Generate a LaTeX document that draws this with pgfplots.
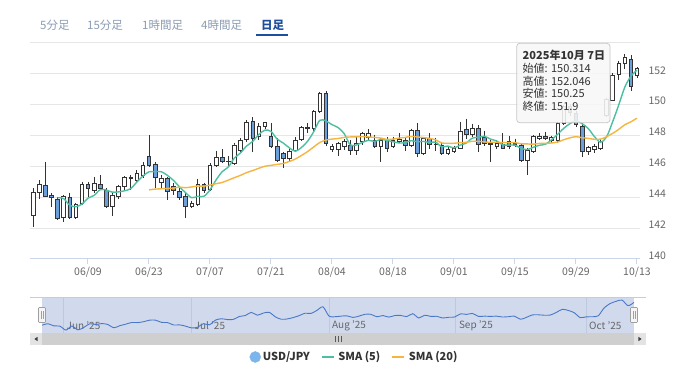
\documentclass[border=0pt]{standalone}
\usepackage{fontspec}
\setmainfont{Noto Sans CJK JP}
\usepackage{pgfplots}
\usepackage{pgfplotstable}
\pgfplotsset{compat=1.18}
\definecolor{gridc}{HTML}{E6E6E6}
\definecolor{axisc}{HTML}{CCD6EB}
\definecolor{txtc}{HTML}{666666}
\definecolor{candleblue}{HTML}{6A9FDC}
\definecolor{candleline}{HTML}{333333}
\definecolor{smafive}{HTML}{4DBFA0}
\definecolor{smatwenty}{HTML}{F5B53F}
\definecolor{tabc}{HTML}{8A9BB2}
\definecolor{tabactive}{HTML}{1D4F9E}
\definecolor{navmask}{HTML}{D1DAED}
\definecolor{navline}{HTML}{4A78C8}
\definecolor{navgrid}{HTML}{BFC9DD}
\definecolor{legblue}{HTML}{7CB5EC}

\pgfplotstableread{
i O H L C
0 142.85 144.60 142.10 144.30
1 144.30 145.10 143.90 144.84
2 144.79 146.30 144.00 144.08
3 144.10 144.25 143.40 144.00
4 143.87 144.04 142.53 142.63
5 142.68 144.15 142.42 144.04
6 144.00 144.30 142.57 142.70
7 142.68 143.65 142.57 143.56
8 143.60 145.00 143.50 144.84
9 144.86 145.00 144.04 144.58
10 144.47 145.30 144.25 144.90
11 144.84 145.44 144.47 144.58
12 144.47 144.58 143.28 143.43
13 143.39 144.25 142.79 144.15
14 144.04 144.80 143.87 144.69
15 144.69 145.38 144.47 145.27
16 145.30 145.44 144.47 145.25
17 145.12 145.77 144.90 145.55
18 145.44 146.30 145.23 146.09
19 146.67 148.03 145.94 146.09
20 146.16 146.30 144.58 145.30
21 144.95 145.45 144.60 145.25
22 145.20 145.33 143.80 144.40
23 144.70 144.90 144.15 144.45
24 144.40 144.58 143.82 144.00
25 144.04 144.25 142.66 143.39
26 143.39 143.78 143.28 143.60
27 143.56 145.16 143.43 144.86
28 144.86 144.95 144.25 144.47
29 144.50 146.20 144.40 146.09
30 146.09 147.00 145.94 146.59
31 146.59 147.10 146.20 146.30
32 146.30 146.67 145.94 146.35
33 146.20 147.54 146.09 147.39
34 147.06 147.82 146.89 147.71
35 147.75 149.00 147.60 148.83
36 148.90 149.18 146.95 147.82
37 147.93 148.83 147.71 148.57
38 148.57 148.90 148.45 148.83
39 147.97 148.80 147.17 147.28
40 147.32 147.82 146.30 146.41
41 146.85 146.95 145.87 146.52
42 146.50 147.10 146.30 147.00
43 147.06 147.88 146.95 147.67
44 147.75 148.62 147.65 148.53
45 148.55 148.79 148.14 148.45
46 148.47 149.65 148.14 149.55
47 149.55 150.84 149.44 150.73
48 150.73 150.90 147.35 147.50
49 147.10 147.45 146.95 147.30
50 147.10 147.60 146.65 147.50
51 147.28 147.75 147.06 147.60
52 147.39 147.71 146.74 147.06
53 147.06 147.93 146.74 147.50
54 147.60 148.25 147.40 148.14
55 147.88 148.40 147.71 148.14
56 147.71 148.03 147.17 147.28
57 147.28 147.82 146.30 147.71
58 147.71 147.88 146.95 147.17
59 147.28 147.93 147.17 147.71
60 147.60 148.14 147.50 147.75
61 147.70 147.90 147.00 147.35
62 147.35 148.45 147.25 148.35
63 148.36 148.80 146.63 146.85
64 146.85 147.93 146.74 147.82
65 147.82 148.15 147.10 147.40
66 147.40 147.85 147.00 147.45
67 147.39 147.60 146.75 146.85
68 146.85 147.30 146.75 147.10
69 147.00 147.35 146.85 147.20
70 147.20 148.90 147.10 148.30
71 148.40 149.10 147.80 148.10
72 148.10 148.75 147.90 148.45
73 148.45 148.70 146.95 147.40
74 147.90 148.30 147.35 147.50
75 147.50 147.70 146.30 147.40
76 147.30 147.70 147.10 147.50
77 147.45 148.15 147.10 147.20
78 147.60 148.00 147.10 147.30
79 147.40 147.80 147.25 147.50
80 147.39 147.50 146.30 146.41
81 146.41 147.17 145.44 147.06
82 146.95 148.03 146.85 147.93
83 147.80 148.14 147.71 147.97
84 147.93 148.25 147.71 147.82
85 147.67 148.00 147.55 147.88
86 147.71 148.90 147.50 148.79
87 148.79 149.95 148.70 149.87
88 149.87 150.05 149.30 149.50
89 149.45 149.60 148.55 148.70
90 148.60 148.80 146.63 147.00
91 146.95 147.35 146.75 147.25
92 147.10 147.45 146.90 147.30
93 147.20 147.75 147.05 147.60
94 149.33 150.45 149.20 150.35
95 150.314 152.046 150.25 151.90
96 151.95 152.85 151.60 152.68
97 152.68 153.30 152.30 153.10
98 152.96 153.20 150.90 151.17
99 151.92 152.45 151.70 152.35
}\ohlc

\pgfplotstableread{
i s
4 143.97
5 143.92
6 143.49
7 143.39
8 143.55
9 143.94
10 144.12
11 144.49
12 144.47
13 144.33
14 144.35
15 144.42
16 144.56
17 144.98
18 145.37
19 145.65
20 145.66
21 145.66
22 145.43
23 145.10
24 144.68
25 144.30
26 143.97
27 144.06
28 144.06
29 144.48
30 145.12
31 145.66
32 145.96
33 146.54
34 146.87
35 147.32
36 147.62
37 148.06
38 148.35
39 148.27
40 147.78
41 147.52
42 147.21
43 146.98
44 147.23
45 147.63
46 148.24
47 148.99
48 148.95
49 148.71
50 148.52
51 148.13
52 147.39
53 147.39
54 147.56
55 147.69
56 147.62
57 147.75
58 147.69
59 147.60
60 147.52
61 147.54
62 147.67
63 147.60
64 147.62
65 147.55
66 147.57
67 147.27
68 147.32
69 147.20
70 147.38
71 147.51
72 147.83
73 147.89
74 147.95
75 147.77
76 147.65
77 147.40
78 147.38
79 147.38
80 147.18
81 147.09
82 147.24
83 147.37
84 147.44
85 147.73
86 148.08
87 148.47
88 148.77
89 148.95
90 148.77
91 148.46
92 147.95
93 147.57
94 147.90
95 148.88
96 149.97
97 151.13
98 151.84
99 152.24
}\smaA

\pgfplotstableread{
i s
19 144.48
20 144.53
21 144.55
22 144.57
23 144.59
24 144.66
25 144.62
26 144.67
27 144.73
28 144.72
29 144.79
30 144.88
31 144.96
32 145.11
33 145.27
34 145.42
35 145.60
36 145.73
37 145.88
38 146.01
39 146.07
40 146.13
41 146.19
42 146.32
43 146.48
44 146.71
45 146.96
46 147.26
47 147.55
48 147.71
49 147.77
50 147.81
51 147.88
52 147.91
53 147.92
54 147.94
55 147.91
56 147.88
57 147.84
58 147.75
59 147.77
60 147.84
61 147.88
62 147.95
63 147.91
64 147.87
65 147.82
66 147.72
67 147.52
68 147.50
69 147.50
70 147.54
71 147.56
72 147.63
73 147.63
74 147.59
75 147.56
76 147.57
77 147.54
78 147.55
79 147.54
80 147.47
81 147.46
82 147.44
83 147.49
84 147.49
85 147.52
86 147.58
87 147.73
88 147.85
89 147.93
90 147.86
91 147.82
92 147.76
93 147.77
94 147.92
95 148.14
96 148.40
97 148.70
98 148.89
99 149.13
}\smaB

\pgfplotsset{
  mainbox/.style={at={(30pt,115pt)}, anchor=south west, scale only axis,
    width=610pt, height=216pt, xmin=-0.5, xmax=99.5, ymin=140, ymax=154},
}

\begin{document}
\begin{tikzpicture}[x=1pt,y=1pt]
\useasboundingbox (0pt,0pt) rectangle (680pt,374pt);

% ---- tabs
\begin{scope}[every node/.style={anchor=west, inner sep=0pt, font=\fontsize{11.5}{13}\selectfont}]
\node[text=tabc] at (40pt,349pt) {5分足};
\node[text=tabc] at (87pt,349pt) {15分足};
\node[text=tabc] at (142pt,349pt) {1時間足};
\node[text=tabc] at (201pt,349pt) {4時間足};
\node[text=tabactive, font=\bfseries\fontsize{11.5}{13}\selectfont] at (261pt,349pt) {日足};
\end{scope}
\draw[tabactive, line width=2.5pt] (256pt,338.8pt) -- (288pt,338.8pt);

% ---- main axis: grid, ticks, wicks
\begin{axis}[mainbox,
  axis x line*=bottom, axis y line*=right,
  x axis line style={draw=axisc, line width=1pt, -},
  y axis line style={draw=none},
  xtick={9,19,...,99},
  xticklabels={06/09,06/23,07/07,07/21,08/04,08/18,09/01,09/15,09/29,10/13},
  ytick={140,142,...,154},
  yticklabels={140,142,144,146,148,150,152,{}},
  ymajorgrids, grid style={draw=gridc, line width=1pt},
  tick align=outside, major tick length=5pt,
  xtick style={draw=axisc, line width=1pt},
  ytick style={draw=none},
  ticklabel style={font=\fontsize{10.5}{12}\selectfont, text=txtc},
  yticklabel style={anchor=west, yshift=3.5pt},
]
\addplot[draw=none, mark=none, forget plot,
  error bars/.cd, y dir=minus, y explicit, error mark=none,
  error bar style={draw=candleline, line width=0.7pt, solid}]
  table[x=i, y=H, y error minus expr={\thisrow{H}-\thisrow{L}}] {\ohlc};
\end{axis}

% ---- candle bodies
\begin{axis}[mainbox, hide axis, ybar stacked, bar width=3.6pt]
\addplot[draw=none, fill=none] table[x=i, y expr={min(\thisrow{O},\thisrow{C})}] {\ohlc};
\addplot[draw=candleline, fill=white, line width=0.7pt] table[x=i, y expr={ifthenelse(\thisrow{C}>\thisrow{O},\thisrow{C}-\thisrow{O},0)}] {\ohlc};
\addplot[draw=candleline, fill=candleblue, line width=0.7pt] table[x=i, y expr={ifthenelse(\thisrow{C}>\thisrow{O},0,\thisrow{O}-\thisrow{C})}] {\ohlc};
\end{axis}

% ---- SMA lines + legend
\begin{axis}[mainbox, hide axis,
  legend columns=3,
  legend image code/.code={\draw[#1, line width=1.6pt] (0pt,0pt) -- (12pt,0pt); \path (14pt,0pt);},
  legend style={at={(axis description cs:0.532,-0.4537)}, anchor=center,
    draw=none, fill=none, font=\bfseries\fontsize{11}{13}\selectfont, text=black!80,
    /tikz/every odd column/.append style={column sep=0pt},
    /tikz/every even column/.append style={column sep=9pt}},
]
\addlegendimage{legend image code/.code={\fill[legblue] (5.5pt,0pt) circle (5.5pt);}}
\addlegendentry{USD/JPY}
\addplot[smafive, line width=1.4pt, smooth, tension=0.5] table[x=i, y=s] {\smaA};
\addlegendentry{SMA (5)}
\addplot[smatwenty, line width=1.4pt, smooth, tension=0.5] table[x=i, y=s] {\smaB};
\addlegendentry{SMA (20)}
\end{axis}

% ---- tooltip
\filldraw[fill=gray!6, fill opacity=0.88, draw=gray!45, line width=0.7pt, rounded corners=3pt]
  (516.7pt,251.3pt) rectangle (610pt,330.7pt);
\begin{scope}[every node/.style={anchor=west, inner sep=0pt, text=black!80, font=\fontsize{11}{13}\selectfont}]
\node[font=\bfseries\fontsize{11}{13}\selectfont] at (522.5pt,319pt) {2025年10月 7日};
\node at (522.5pt,306pt) {始値: 150.314};
\node at (522.5pt,293pt) {高値: 152.046};
\node at (522.5pt,280.5pt) {安値: 150.25};
\node at (522.5pt,268pt) {終値: 151.9};
\end{scope}

% ---- navigator
\fill[navmask] (42pt,41pt) rectangle (634pt,77pt);
\foreach \gx in {63.5,191.5,329,455.8,586} {\draw[navgrid, line width=0.7pt] (\gx pt,41pt) -- (\gx pt,77pt);}
\draw[gray!40, line width=0.6pt] (30pt,77pt) -- (646pt,77pt);
\begin{scope}[every node/.style={anchor=west, inner sep=0pt, text=txtc, font=\fontsize{10}{12}\selectfont}]
\node at (66.5pt,48pt) {Jun '25};
\node at (194.5pt,48pt) {Jul '25};
\node at (332pt,48pt) {Aug '25};
\node at (458.8pt,48pt) {Sep '25};
\node at (589pt,48pt) {Oct '25};
\end{scope}
\begin{axis}[at={(42pt,41pt)}, anchor=south west, scale only axis,
  width=592pt, height=36pt,
  xmin=0, xmax=99, ymin=141.6, ymax=154.2, hide axis]
\addplot[navline, line width=0.9pt, smooth, tension=0.5] table[x=i, y=C] {\ohlc};
\end{axis}
\foreach \hx in {42,634} {
  \filldraw[fill=gray!8, draw=gray!75, line width=0.6pt, rounded corners=0.8pt]
    (\hx pt-3.5pt,51.5pt) rectangle (\hx pt+3.5pt,66.5pt);
  \draw[gray!75, line width=0.5pt] (\hx pt-1.2pt,55pt) -- (\hx pt-1.2pt,63pt) (\hx pt+1.2pt,55pt) -- (\hx pt+1.2pt,63pt);
}

% ---- scrollbar
\fill[gray!12] (30pt,29pt) rectangle (646pt,41pt);
\fill[gray!38] (42pt,29pt) rectangle (634pt,41pt);
\fill[gray!22] (30pt,29pt) rectangle (42pt,41pt);
\fill[gray!22] (634pt,29pt) rectangle (646pt,41pt);
\fill[black!75] (37.6pt,32.8pt) -- (37.6pt,37.2pt) -- (34.4pt,35pt) -- cycle;
\fill[black!75] (638.4pt,32.8pt) -- (638.4pt,37.2pt) -- (641.6pt,35pt) -- cycle;
\draw[black!65, line width=0.5pt] (335pt,32pt) -- (335pt,38pt) (338pt,32pt) -- (338pt,38pt) (341pt,32pt) -- (341pt,38pt);
\end{tikzpicture}
\end{document}
